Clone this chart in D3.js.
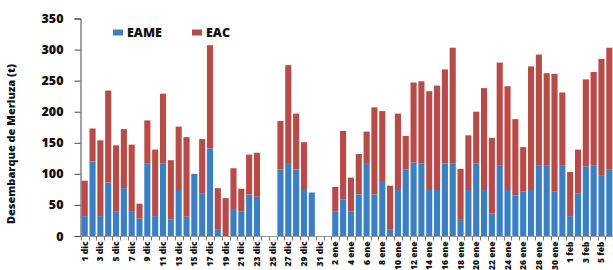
<!DOCTYPE html>
<html><head><meta charset="utf-8">
<script src="https://cdn.jsdelivr.net/npm/d3@7"></script>
<style>body{margin:0;background:#fff}svg{display:block}</style>
</head><body>
<svg id="c" width="613" height="270"></svg>
<script>
const days = ["1 dic","2 dic","3 dic","4 dic","5 dic","6 dic","7 dic","8 dic","9 dic","10 dic","11 dic","12 dic","13 dic","14 dic","15 dic","16 dic","17 dic","18 dic","19 dic","20 dic","21 dic","22 dic","23 dic","24 dic","25 dic","26 dic","27 dic","28 dic","29 dic","30 dic","31 dic",
"1 ene","2 ene","3 ene","4 ene","5 ene","6 ene","7 ene","8 ene","9 ene","10 ene","11 ene","12 ene","13 ene","14 ene","15 ene","16 ene","17 ene","18 ene","19 ene","20 ene","21 ene","22 ene","23 ene","24 ene","25 ene","26 ene","27 ene","28 ene","29 ene","30 ene","31 ene",
"1 feb","2 feb","3 feb","4 feb","5 feb","6 feb","7 feb"];
// EAME (bottom) and EAC (stacked on top); null = no landing
const eame = [32,120,32,86,40,77,40,28,117,32,117,27,74,31,100,69,141,10,0,42,39,67,63,null,null,107,116,107,74,70,null,
null,39,59,39,67,116,67,87,10,74,107,118,117,74,74,117,117,26,74,117,74,36,114,74,65,72,74,114,113,72,114,
32,68,112,114,98,107,null];
const eac = [57,53,122,148,106,95,107,24,69,107,112,95,102,128,0,87,166,67,61,67,37,64,71,null,null,78,159,90,77,0,null,
null,40,110,55,65,52,140,114,71,123,54,129,132,159,168,151,186,82,88,83,164,122,165,167,123,71,199,178,149,189,117,
71,71,140,150,187,196,null];
const series = ["EAME","EAC"];
const colors = ["#3a7fc3","#b84b47"];
const yTicks = [0,50,100,150,200,250,300,350];

const svg = d3.select("#c");
const x = d3.scaleBand().domain(days).range([80.8, 80.8 + days.length*7.83]).paddingInner(0.22).paddingOuter(0.11);
const y = d3.scaleLinear().domain([0,350]).range([236,18.5]);

const rows = days.map((d,i)=>({day:d, EAME:eame[i]||0, EAC:eac[i]||0}));
const stacked = d3.stack().keys(series)(rows);

svg.append("g").selectAll("g").data(stacked).join("g")
  .attr("fill",(d,i)=>colors[i])
  .selectAll("rect").data(d=>d.filter(p=>p[1]-p[0]>0)).join("rect")
  .attr("x",d=>x(d.data.day)).attr("width",x.bandwidth())
  .attr("y",d=>y(d[1])).attr("height",d=>y(d[0])-y(d[1]));

// y axis
const ya = svg.append("g").attr("transform","translate(80.5,0)")
  .call(d3.axisLeft(y).tickValues(yTicks).tickSize(6).tickPadding(11));
ya.select(".domain").attr("stroke","#444");
ya.selectAll(".tick line").attr("stroke","#444");
ya.selectAll("text").attr("font-family","'Open Sans', sans-serif").attr("font-weight","800")
  .attr("font-size","12.5px").attr("fill","#111");

// x axis
const xa = svg.append("g").attr("transform","translate(0,236.5)");
xa.append("line").attr("x1",80.5).attr("x2",613).attr("stroke","#999");
xa.selectAll("line.tk").data(days).join("line").attr("class","tk")
  .attr("x1",d=>Math.round(x(d)-x.step()*x.paddingInner()/2)+0.5)
  .attr("x2",d=>Math.round(x(d)-x.step()*x.paddingInner()/2)+0.5)
  .attr("y1",0).attr("y2",4).attr("stroke","#777");
xa.selectAll("text").data(days.filter((d,i)=>i%2===0)).join("text")
  .attr("transform",d=>`translate(${x(d)+x.bandwidth()/2+3},5) rotate(-90)`)
  .attr("text-anchor","end")
  .attr("font-family","'Open Sans', sans-serif").attr("font-weight","800")
  .attr("font-size","8.5px").attr("fill","#111").text(d=>d);

// y title
svg.append("text").attr("transform","translate(15,144) rotate(-90)")
  .attr("text-anchor","middle").attr("font-family","'Open Sans', sans-serif")
  .attr("font-weight","800").attr("font-size","11px").attr("fill","#111")
  .text("Desembarque de Merluza (t)");

// legend
const lg = svg.append("g");
const lx = [113,192];
series.forEach((s,i)=>{
  lg.append("rect").attr("x",lx[i]).attr("y",29.5).attr("width",10).attr("height",6).attr("fill",colors[i]);
  lg.append("text").attr("x",lx[i]+14).attr("y",37).attr("font-family","'Open Sans', sans-serif")
    .attr("font-weight","800").attr("font-size","12.5px").attr("fill","#111").text(s);
});
</script>
</body></html>
